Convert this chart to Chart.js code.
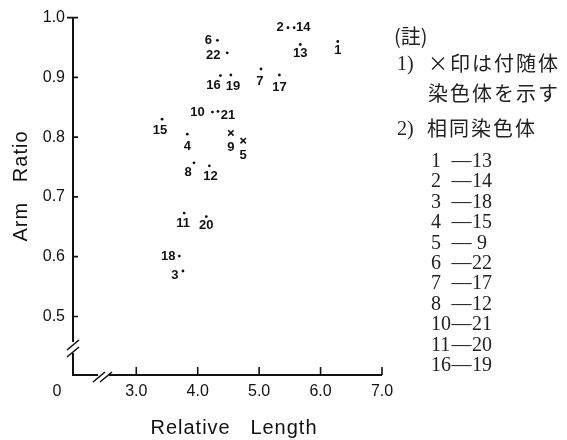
<!DOCTYPE html>
<html>
<head>
<meta charset="utf-8">
<script src="https://cdn.jsdelivr.net/npm/chart.js@4/dist/chart.umd.min.js"></script>
<style>
  html, body { margin: 0; padding: 0; background: #fff; }
  #wrap { position: relative; width: 567px; height: 440px; background: #fff; overflow: hidden; }
  #c { position: absolute; left: 0; top: 0; }
  .note { position: absolute; white-space: nowrap; color: #222; }
  .jp { font-family: "Noto Sans CJK JP", sans-serif; font-size: 20px; line-height: 24px; letter-spacing: 2px; }
  .num { font-family: "Liberation Serif", serif; font-size: 20px; line-height: 24px; }
  .pair { font-family: "Liberation Serif", serif; font-size: 20px; line-height: 20px; display: flex; }
  .pair .l { display: inline-block; width: 20px; text-align: left; }
  .pair .d { display: inline-block; width: 21px; text-align: center; }
  .pair .r { display: inline-block; width: 20px; text-align: center; }
</style>
</head>
<body>
<div id="wrap">
  <canvas id="c" width="567" height="440"></canvas>
  <div id="notes"></div>
</div>
<script>
// ---------- data ----------
const chromosomeIds = [1, 2, 3, 4, 5, 6, 7, 8, 9, 10, 11, 12, 13, 14, 15, 16, 17, 18, 19, 20, 21, 22];
const relativeLength = [6.28, 5.47, 3.76, 3.83, 4.74, 4.32, 5.03, 3.94, 4.54, 4.24, 3.78, 4.19, 5.67, 5.57, 3.42, 4.37, 5.33, 3.70, 4.54, 4.14, 4.33, 4.48];
const armRatio = [0.960, 0.983, 0.576, 0.805, 0.794, 0.962, 0.914, 0.757, 0.807, 0.842, 0.673, 0.752, 0.955, 0.983, 0.830, 0.903, 0.904, 0.601, 0.904, 0.667, 0.843, 0.941];
const satelliteIds = [5, 9];
const xTickValues = [3.0, 4.0, 5.0, 6.0, 7.0];
const yTickValues = [0.5, 0.6, 0.7, 0.8, 0.9, 1.0];
const xOriginLabel = "0";
const xAxisTitle = "Relative   Length";
const yAxisTitle = "Arm   Ratio";
const noteTitle = "(註)";
const note1Num = "1)";
const note1Lines = ["×印は付随体", "染色体を示す"];
const note2Num = "2)";
const note2Text = "相同染色体";
const homologousPairs = [["1","13"],["2","14"],["3","18"],["4","15"],["5","9"],["6","22"],["7","17"],["8","12"],["10","21"],["11","20"],["16","19"]];

// ---------- style (label placement around each point, px) ----------
const labelOffsets = {
  1:[0,9], 2:[-8,0], 3:[-8,4], 4:[0,12], 5:[0,15], 6:[-9,0], 7:[-1,12], 8:[-6,10],
  9:[0,14], 10:[-15,0], 11:[-1,10], 12:[1,11], 13:[0,9], 14:[9,0], 15:[-2,11],
  16:[-7,10], 17:[0,12], 18:[-11,0], 19:[2,11], 20:[0,9], 21:[10,4], 22:[-14,3]
};
const xAxisMin = 1.97;   // where the broken axis starts
const yAxisMin = 0.402;

// ---------- build datasets ----------
const normalPts = [], satPts = [];
chromosomeIds.forEach((id, i) => {
  const p = { x: relativeLength[i], y: armRatio[i], id: id };
  (satelliteIds.includes(id) ? satPts : normalPts).push(p);
});

const decor = {
  id: 'decor',
  afterDatasetsDraw(chart) {
    const ctx = chart.ctx;
    ctx.save();
    ctx.fillStyle = '#111';
    ctx.font = 'bold 13px "Liberation Sans Narrow", "Arial Narrow", "Liberation Sans", sans-serif';
    ctx.textAlign = 'center';
    ctx.textBaseline = 'middle';
    chart.data.datasets.forEach((ds, di) => {
      const meta = chart.getDatasetMeta(di);
      meta.data.forEach((el, i) => {
        const id = ds.data[i].id;
        const off = labelOffsets[id] || [0, 10];
        ctx.fillText(String(id), el.x + off[0], el.y + off[1]);
      });
    });
    ctx.restore();
  },
  afterDraw(chart) {
    const ctx = chart.ctx;
    const xs = chart.scales.x, ys = chart.scales.y;
    const L = chart.chartArea.left, R = chart.chartArea.right;
    const T = chart.chartArea.top, B = chart.chartArea.bottom;
    ctx.save();
    ctx.strokeStyle = '#111';
    ctx.lineWidth = 2;
    ctx.lineCap = 'butt';
    // y axis with break
    ctx.beginPath();
    ctx.moveTo(L, T); ctx.lineTo(L, B - 33);
    ctx.moveTo(L, B - 22); ctx.lineTo(L, B);
    // x axis with break
    ctx.moveTo(L - 1, B); ctx.lineTo(L + 25, B);
    ctx.moveTo(L + 36, B); ctx.lineTo(R, B);
    ctx.stroke();
    // break marks
    ctx.lineWidth = 1.6;
    ctx.beginPath();
    ctx.moveTo(L - 6, B - 25); ctx.lineTo(L + 6, B - 35);
    ctx.moveTo(L - 6, B - 18); ctx.lineTo(L + 6, B - 28);
    ctx.moveTo(L + 20, B + 7); ctx.lineTo(L + 32, B - 3);
    ctx.moveTo(L + 27, B + 7); ctx.lineTo(L + 39, B - 3);
    ctx.stroke();
    // tick marks (inside)
    ctx.lineWidth = 1.6;
    ctx.beginPath();
    ys.ticks.forEach(t => {
      const py = ys.getPixelForValue(t.value);
      ctx.moveTo(t.value === 1.0 ? L - 6 : L, py); ctx.lineTo(L + 5, py);
    });
    xs.ticks.forEach(t => {
      const px = xs.getPixelForValue(t.value);
      ctx.moveTo(px, B); ctx.lineTo(px, B - 8);
    });
    ctx.stroke();
    // origin label
    ctx.fillStyle = '#111';
    ctx.font = '16px "Liberation Sans", Arial, sans-serif';
    ctx.textAlign = 'center';
    ctx.textBaseline = 'middle';
    ctx.fillText(xOriginLabel, L - 16, B + 17);
    // axis titles
    ctx.font = '20px "Liberation Sans", Arial, sans-serif';
    try { ctx.letterSpacing = '1px'; } catch (e) {}
    ctx.fillText(xAxisTitle, 234, B + 53);
    ctx.translate(21, 186);
    ctx.rotate(-Math.PI / 2);
    ctx.fillText(yAxisTitle, 0, 0);
    ctx.restore();
  }
};

new Chart(document.getElementById('c'), {
  type: 'scatter',
  data: {
    datasets: [
      { data: normalPts, pointStyle: 'circle', pointRadius: 1.4, backgroundColor: '#111', borderWidth: 0 },
      { data: satPts, pointStyle: 'crossRot', pointRadius: 3.8, borderColor: '#111', borderWidth: 1.6, backgroundColor: '#111' }
    ]
  },
  options: {
    responsive: false,
    animation: false,
    events: [],
    layout: { padding: { left: 0, top: 13, right: 185, bottom: 0 } },
    plugins: { legend: { display: false }, tooltip: { enabled: false } },
    scales: {
      x: {
        type: 'linear', min: xAxisMin, max: 7.0,
        grid: { display: false, drawTicks: false },
        border: { display: false },
        ticks: { padding: 7, color: '#111', font: { family: '"Liberation Sans", Arial, sans-serif', size: 16 },
                 callback: v => Number(v).toFixed(1) },
        afterBuildTicks: s => { s.ticks = xTickValues.map(v => ({ value: v })); },
        afterFit: s => { s.height = 65; }
      },
      y: {
        type: 'linear', min: yAxisMin, max: 1.0,
        grid: { display: false, drawTicks: false },
        border: { display: false },
        ticks: { padding: 8, color: '#111', font: { family: '"Liberation Sans", Arial, sans-serif', size: 16 },
                 callback: v => Number(v).toFixed(1) },
        afterBuildTicks: s => { s.ticks = yTickValues.map(v => ({ value: v })); },
        afterFit: s => { s.width = 73; }
      }
    }
  },
  plugins: [decor]
});

// ---------- notes (right side) ----------
const notes = document.getElementById('notes');
function addNote(text, cls, left, cy, lh) {
  const d = document.createElement('div');
  d.className = 'note ' + cls;
  d.textContent = text;
  d.style.left = left + 'px';
  d.style.top = (cy - lh / 2) + 'px';
  notes.appendChild(d);
  return d;
}
addNote(noteTitle, 'jp', 394, 36, 24).style.letterSpacing = '0px';
addNote(note1Num, 'num', 397, 63, 24);
addNote(note1Lines[0], 'jp', 428, 63, 24);
addNote(note1Lines[1], 'jp', 428, 93, 24);
addNote(note2Num, 'num', 397, 128, 24);
addNote(note2Text, 'jp', 427, 128, 24);
homologousPairs.forEach((p, i) => {
  const d = document.createElement('div');
  d.className = 'note pair';
  d.style.left = '431px';
  d.style.top = (160 + i * 20.4 - 10) + 'px';
  const a = document.createElement('span'); a.className = 'l'; a.textContent = p[0];
  const b = document.createElement('span'); b.className = 'd'; b.textContent = '—';
  const c = document.createElement('span'); c.className = 'r'; c.textContent = p[1];
  d.appendChild(a); d.appendChild(b); d.appendChild(c);
  notes.appendChild(d);
});
</script>
</body>
</html>
